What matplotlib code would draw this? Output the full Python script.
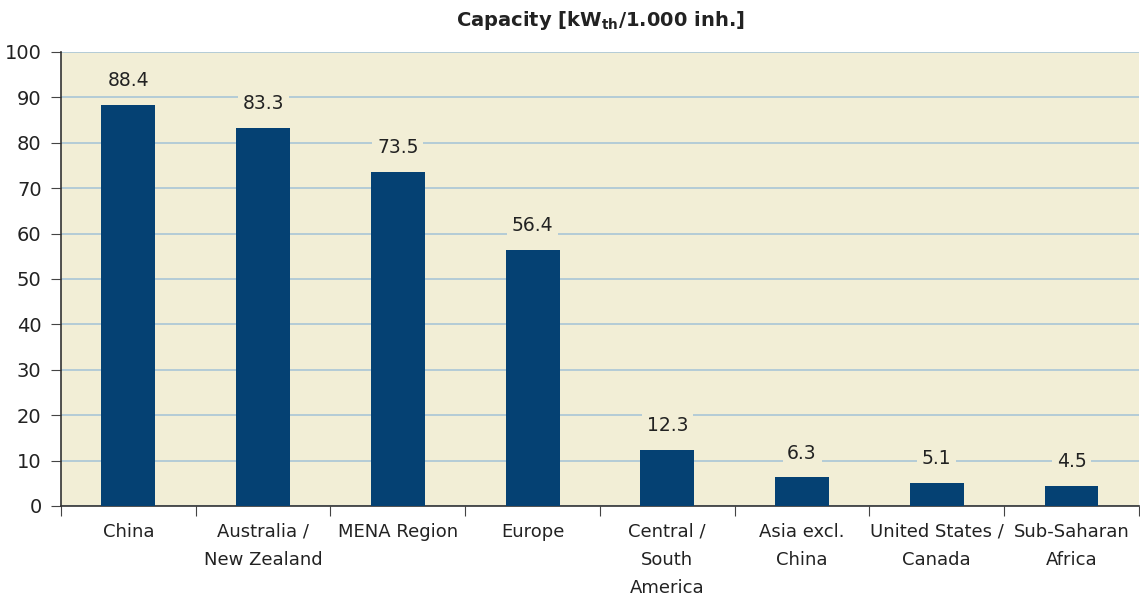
import numpy as np
import matplotlib.pyplot as plt

regions = ["China", "Australia /\nNew Zealand", "MENA Region", "Europe",
           "Central /\nSouth\nAmerica", "Asia excl.\nChina", "United States /\nCanada",
           "Sub-Saharan\nAfrica"]
capacity = [88.4, 83.3, 73.5, 56.4, 12.3, 6.3, 5.1, 4.5]

bg = "#f2eed6"
bar_col = "#054173"
grid_col = "#a9c6d6"
txt = "#222222"

plt.rcParams["font.family"] = ["DejaVu Sans"]

fig = plt.figure(figsize=(11.4, 5.99), dpi=100)
ax = fig.add_axes([0.0535, 0.1553, 0.9455, 0.7579])
ax.set_facecolor(bg)

x = np.arange(len(regions))
ax.bar(x, capacity, width=0.4, color=bar_col, zorder=3)

# value labels sit on a beige box that hides the gridline behind them
for xi, v in zip(x, capacity):
    ax.annotate(f"{v:.1f}", (xi, v), xytext=(0, 17.5), textcoords="offset points",
                ha="center", va="center", fontsize=13.5, color=txt, zorder=4,
                bbox=dict(boxstyle="square,pad=0.25", fc=bg, ec="none"))

ax.set_xlim(-0.5, len(regions) - 0.5)
ax.set_ylim(0, 100)
ax.set_yticks(range(0, 101, 10))
ax.yaxis.grid(True, color=grid_col, linewidth=1.2, zorder=1)
ax.set_axisbelow(True)

# ticks between categories, labels centred under bars
ax.set_xticks(np.arange(len(regions) + 1) - 0.5)
ax.set_xticklabels([])
ax.set_xticks(x, minor=True)
ax.set_xticklabels(regions, minor=True, fontsize=13, color=txt, linespacing=1.72, va="top")
ax.tick_params(axis="x", which="minor", length=0, pad=12)
ax.tick_params(axis="x", which="major", length=7, color="#444444")
ax.tick_params(axis="y", length=7, color="#444444", labelsize=14, labelcolor=txt, pad=7)

for s in ["top", "right"]:
    ax.spines[s].set_visible(False)
for s in ["left", "bottom"]:
    ax.spines[s].set_color("#333333")
    ax.spines[s].set_linewidth(1.2)

ax.set_title(r"Capacity [kW$_{\mathbf{th}}$/1.000 inh.]", fontsize=14, fontweight="bold",
             color=txt, pad=19)

fig.savefig("out.png", dpi=100)
